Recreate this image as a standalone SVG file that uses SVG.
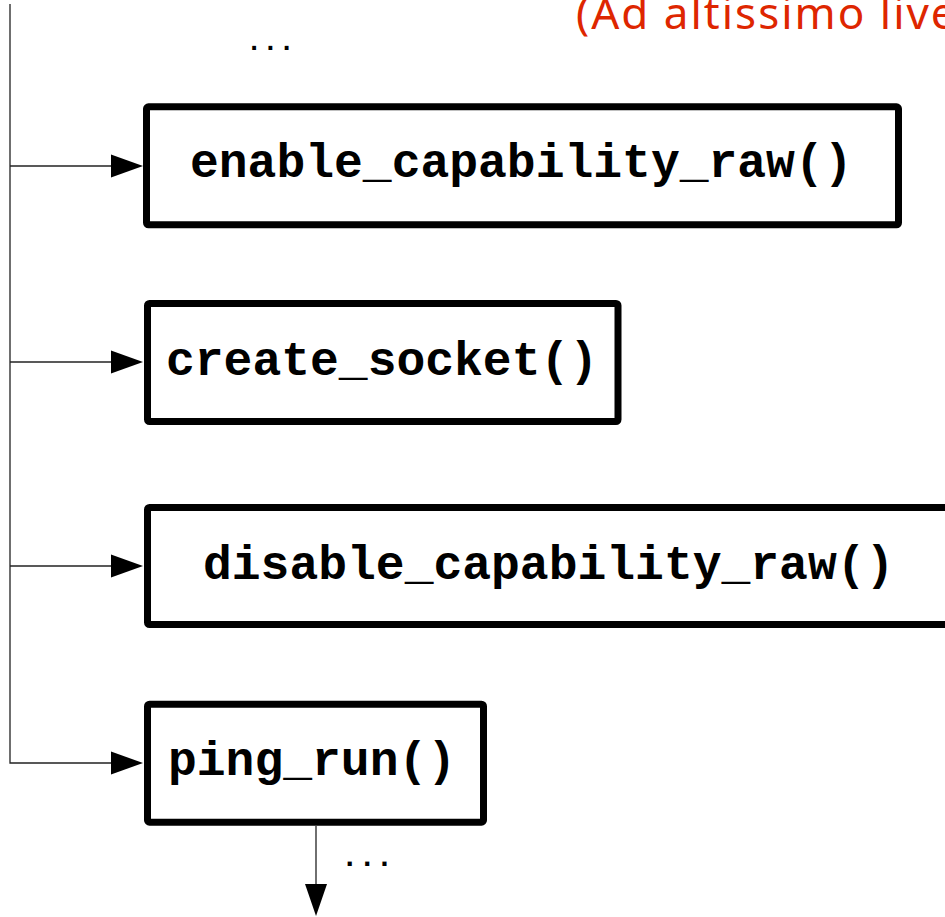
<svg xmlns="http://www.w3.org/2000/svg" width="945" height="917" viewBox="0 0 945 917">
<style>
.box{fill:#fff;stroke:#000;stroke-width:7;stroke-linejoin:round}
.lbl{font-family:"Liberation Mono","Courier New",monospace;font-weight:bold;font-size:48px;fill:#000}
.dots{font-family:"Liberation Mono",monospace;font-weight:bold;fill:#000}
.conn{fill:none;stroke:#222;stroke-width:1.3}
.head{fill:#000}
.note{font-family:"Noto Sans","Open Sans",sans-serif;font-size:44px;letter-spacing:2px;fill:#de2600}
</style>
<rect width="945" height="917" fill="#fff"/>
<text class="note" x="576" y="29">(Ad altissimo live</text>
<text class="dots" x="246" y="50" font-size="27">...</text>
<g id="connectors">
<path class="conn" d="M10,4 V763 H114"/>
<path class="conn" d="M10,166 H114"/>
<path class="conn" d="M10,362 H114"/>
<path class="conn" d="M10,566 H114"/>
<path class="conn" d="M316,826 V886"/>
<polygon class="head" points="111,154.5 143,166 111,177.5"/>
<polygon class="head" points="111,350.5 143,362 111,373.5"/>
<polygon class="head" points="111,554.5 143,566 111,577.5"/>
<polygon class="head" points="111,751.5 143,763 111,774.5"/>
<polygon class="head" points="305,884 327,884 316,916"/>
</g>
<g id="n1">
<rect class="box" x="146.5" y="106.8" width="752" height="118" rx="2"/>
<text class="lbl" x="190" y="177">enable_capability_raw()</text>
</g>
<g id="n2">
<rect class="box" x="147.5" y="303.5" width="470.5" height="118" rx="2"/>
<text class="lbl" x="166" y="375">create_socket()</text>
</g>
<g id="n3">
<rect class="box" x="147.5" y="507.5" width="820" height="117" rx="2"/>
<text class="lbl" x="203" y="579">disable_capability_raw()</text>
</g>
<g id="n4">
<rect class="box" x="147.5" y="704.2" width="336" height="118" rx="2"/>
<text class="lbl" x="168" y="775">ping_run()</text>
</g>
<text class="dots" x="341" y="866" font-size="29">...</text>
</svg>
